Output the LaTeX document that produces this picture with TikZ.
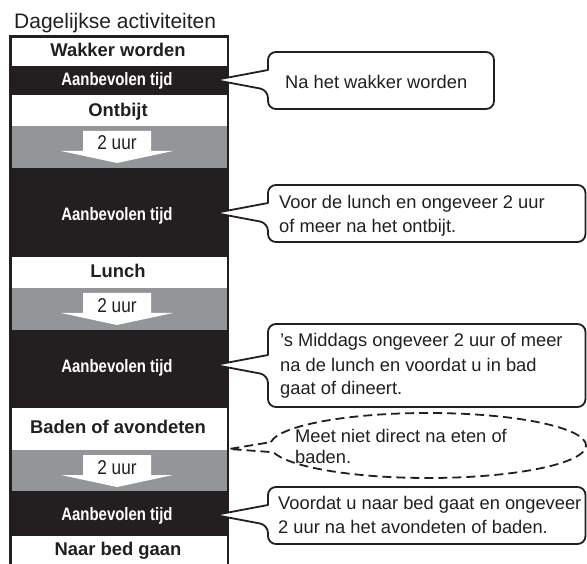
\documentclass[tikz,border=0pt]{standalone}
\usepackage{fontspec}
\setmainfont{Liberation Sans}
\newfontfamily\narrowfont[FakeStretch=0.86]{Liberation Sans}
\newfontfamily\tallfont[FakeStretch=0.83]{Liberation Sans}
\definecolor{ink}{RGB}{35,31,32}
\definecolor{band}{RGB}{147,149,152}
\tikzset{
    stage/.style = {text=ink, anchor=base, inner sep=0pt, font=\bfseries\fontsize{18.4}{22}\selectfont},
    tijd/.style = {text=white, anchor=base, inner sep=0pt, font=\tallfont\bfseries\fontsize{18}{20}\selectfont},
    uur/.style = {text=ink, anchor=base, inner sep=0pt, font=\narrowfont\fontsize{20}{22}\selectfont},
    note/.style = {text=ink, anchor=base west, align=left, inner sep=0pt, font=\fontsize{18.3}{24}\selectfont},
    bubble/.style = {draw=ink, fill=white, line width=1.8pt, line join=round},
    hint/.style = {draw=ink, line width=1.8pt, dash pattern=on 9pt off 5pt}
}
\begin{document}
\begin{tikzpicture}[x=1pt, y=-1pt]
    \useasboundingbox (0,0) rectangle (587,564);
    \node[text=ink, anchor=base west, inner sep=0pt, font=\fontsize{21}{24}\selectfont] (titel) at (14,28.5) {Dagelijkse activiteiten};
    % kolom
    \fill[ink] (8.5,35.5) rectangle (229,564);
    \foreach \a/\b in {38/66, 95/126, 257/288, 408/450, 536/564}
    {
        \fill[white] (11.5,\a) rectangle (226.5,\b);
    }
    \foreach \a/\b in {126/168, 288/330, 450/491}
    {
        \fill[band] (11.5,\a) rectangle (226.5,\b);
        \fill[white] (83,\a+5) -- (151,\a+5) -- (151,\a+25) -- (173,\a+25)
            -- (117,\a+37) -- (61,\a+25) -- (83,\a+25) -- cycle;
    }
    \node[stage] (wakker) at (118,57) {Wakker worden};
    \node[tijd] (tijd1) at (117,86) {Aanbevolen tijd};
    \node[stage] (ontbijt) at (118,116.5) {Ontbijt};
    \node[uur] (uur1) at (117,150) {2 uur};
    \node[tijd] (tijd2) at (117,220.5) {Aanbevolen tijd};
    \node[stage] (lunch) at (118,278) {Lunch};
    \node[uur] (uur2) at (117,312.5) {2 uur};
    \node[tijd] (tijd3) at (117,373) {Aanbevolen tijd};
    \node[stage] (baden) at (118,433) {Baden of avondeten};
    \node[uur] (uur3) at (117,474) {2 uur};
    \node[tijd] (tijd4) at (117,520) {Aanbevolen tijd};
    \node[stage] (bed) at (118,555) {Naar bed gaan};
    % ballonnen
    \foreach \i/\ty/\ya/\yb/\xr in {1/80/52/109/494, 2/213/185/242/585.5, 3/365/324/407/585.5, 4/515/487/544/585.5}
    {
        \coordinate (punt\i) at (215,\ty);
        \draw[bubble] (punt\i) -- (268,\ty-10) -- (268,\ty-18) [rounded corners=8pt] -- (268,\ya)
            -- (\xr,\ya) -- (\xr,\yb) -- (268,\yb) -- (268,\ty+10) [sharp corners] -- cycle;
    }
    \coordinate (meet) at (428,445.5);
    \coordinate (punt5) at (229,449);
    \draw[hint] (meet) ++(186:158 and 32.5) arc[start angle=186, end angle=528, x radius=158, y radius=32.5]
        -- (punt5) -- cycle;
    \node[note] (noot1) at (285,89) {Na het wakker worden};
    \node[note] (noot2) at (279,233) {Voor de lunch en ongeveer 2 uur\\of meer na het ontbijt.};
    \node[note] (noot3) at (280,395) {’s Middags ongeveer 2 uur of meer\\na de lunch en voordat u in bad\\gaat of dineert.};
    \node[note, font=\fontsize{18.3}{20.5}\selectfont] (noot5) at (295,463) {Meet niet direct na eten of\\baden.};
    \node[note] (noot4) at (278,533.5) {Voordat u naar bed gaat en ongeveer\\2 uur na het avondeten of baden.};
\end{tikzpicture}
\end{document}
